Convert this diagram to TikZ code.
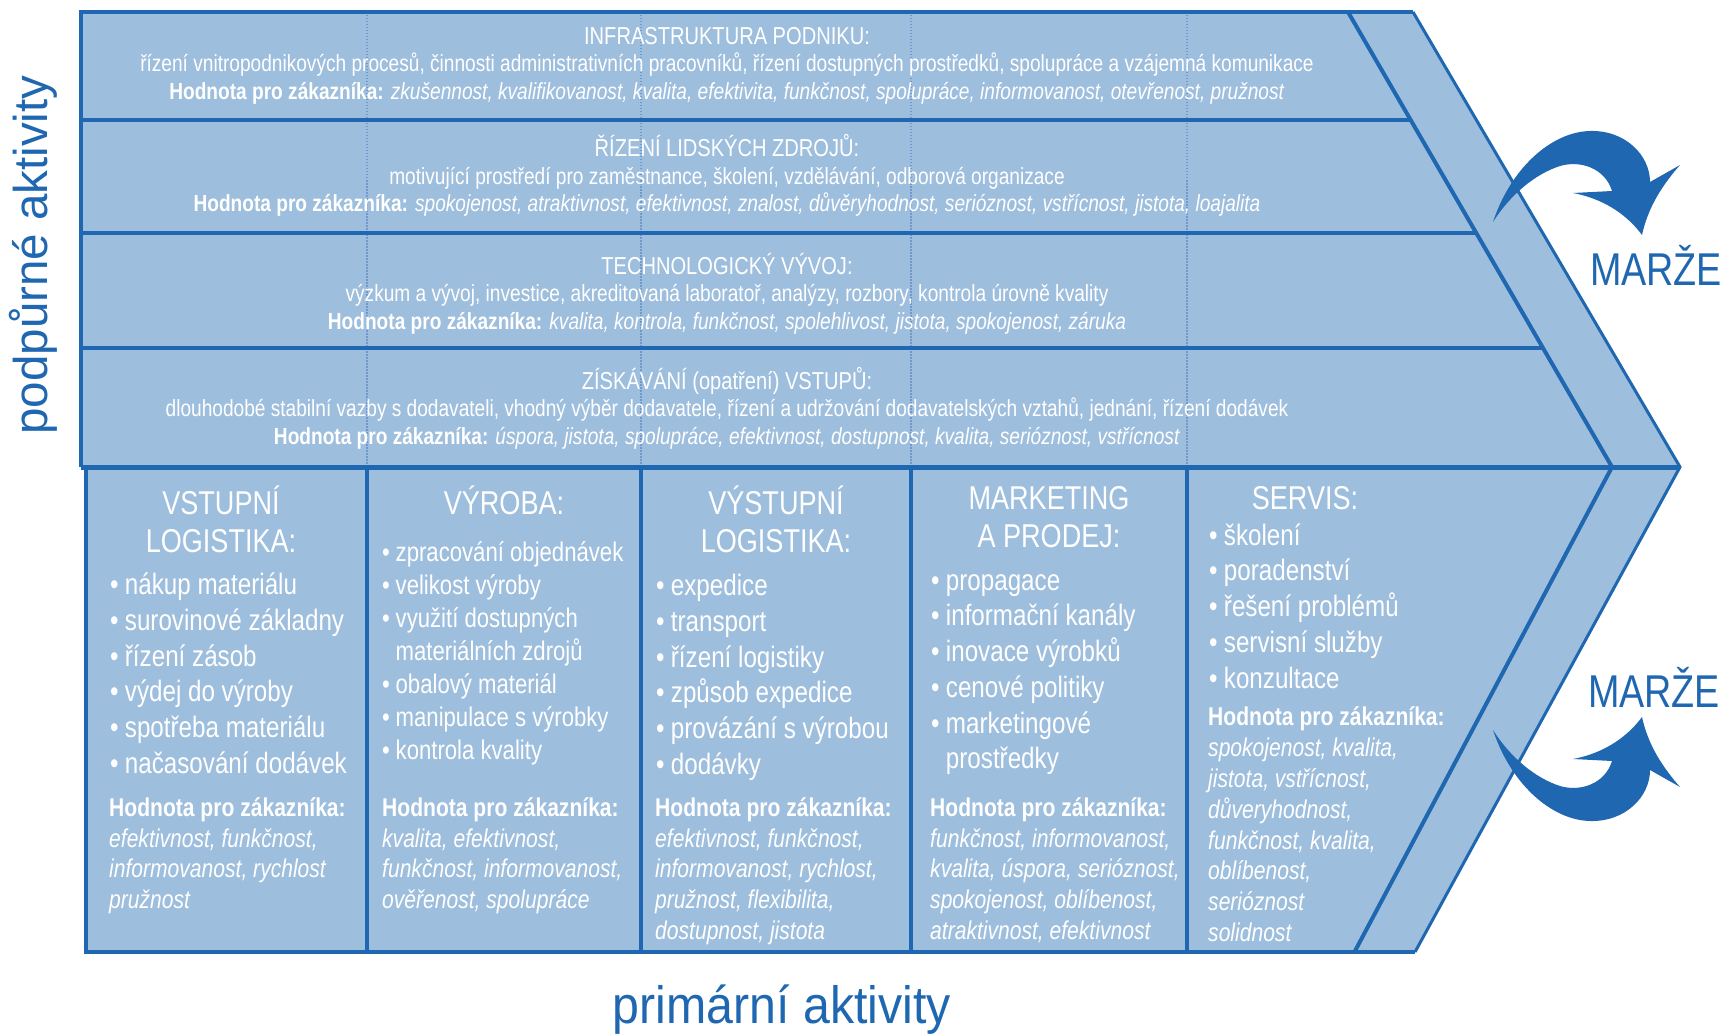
\documentclass[tikz,border=0pt]{standalone}
\usepackage{fontspec}
\setmainfont[FakeStretch=0.82]{Liberation Sans}
\newfontfamily\widefont{Liberation Sans}
\newfontfamily\botfont[FakeStretch=0.92]{Liberation Sans}
\definecolor{fillb}{RGB}{158,190,221}
\definecolor{lineb}{RGB}{31,103,176}
\definecolor{dotb}{RGB}{112,152,202}
\newcommand\bl{\makebox[0.5em][l]{•}}
\newcommand\cl{\hspace*{0.5em}}
\tikzset{
  bord/.style={draw=lineb, line width=4pt},
  thinbord/.style={draw=lineb, line width=3pt},
  dotl/.style={draw=dotb, line width=1.3pt, dash pattern=on 1.5pt off 1.5pt},
  sup/.style={text=white, inner sep=0pt, yshift=-6.6pt, font=\fontsize{23.3}{28}\selectfont},
  suph/.style={text=white, inner sep=0pt, yshift=-6.6pt, font=\fontsize{24.5}{28}\selectfont},
  head/.style={text=white, inner sep=0pt, yshift=-12pt, font=\fontsize{33}{38}\selectfont},
  bul/.style={text=white, inner sep=0pt, yshift=-8.6pt, font=\fontsize{29.5}{34}\selectfont},
  bulsm/.style={text=white, inner sep=0pt, yshift=-8.3pt, font=\fontsize{27}{32}\selectfont},
  val/.style={text=white, inner sep=0pt, yshift=-6.6pt, font=\fontsize{25.7}{30}\selectfont},
  marze/.style={text=lineb, inner sep=0pt, yshift=3pt, font=\fontsize{46}{50}\selectfont},
  arr/.style={fill=lineb},
}
\newcommand\suprow[5]{%
  \node[suph, anchor=mid] (#1h) at (727,#2) {#3};
  \node[sup, anchor=mid] (#1b) at (727,#2+27.5) {#4};
  \node[sup, anchor=mid] (#1v) at (727,#2+55) {\textbf{Hodnota pro zákazníka:} \textit{#5}};
}
\begin{document}
\begin{tikzpicture}[x=1pt,y=-1pt]
\useasboundingbox (0,0) rectangle (1726,1035);
\fill[white] (0,0) rectangle (1726,1035);
% key points
\coordinate (stl) at (81,12);
\coordinate (str) at (1413,12);
\coordinate (tip) at (1680,467);
\coordinate (pbr) at (1415,952);
\coordinate (pbl) at (86,952);
\coordinate (ptl) at (86,467);
\coordinate (sbl) at (81,467);
\coordinate (itop) at (1348,12);
\coordinate (imid) at (1612,467);
\coordinate (ibot) at (1355,951);
% fill
\fill[fillb] (stl) -- (str) -- (tip) -- (pbr) -- (pbl) -- (ptl) -- (sbl) -- cycle;
% dotted guide lines in support area
\foreach \x in {367,641,911,1187} \draw[dotl] (\x,15) -- (\x,464);
% support rows
\draw[bord] (81,120) -- (1411,120);
\draw[bord] (81,233) -- (1477,233);
\draw[bord] (81,348) -- (1544,348);
\draw[bord, line width=5pt] (sbl) -- (tip);
\draw[bord] (itop) -- (imid) -- (ibot);
\draw[bord] (sbl) -- (stl) -- (str);
\draw[thinbord] (str) -- (tip) -- (pbr);
\draw[bord] (ptl) -- (pbl) -- (pbr);
\foreach \x in {367,641,911,1187} \draw[bord] (\x,467) -- (\x,952);

% support texts
\suprow{ra}{35.2}{INFRASTRUKTURA PODNIKU:}{řízení vnitropodnikových procesů, činnosti administrativních pracovníků, řízení dostupných prostředků, spolupráce a vzájemná komunikace}{zkušennost, kvalifikovanost, kvalita, efektivita, funkčnost, spolupráce, informovanost, otevřenost, pružnost}
\suprow{rb}{147.5}{ŘÍZENÍ LIDSKÝCH ZDROJŮ:}{motivující prostředí pro zaměstnance, školení, vzdělávání, odborová organizace}{spokojenost, atraktivnost, efektivnost, znalost, důvěryhodnost, serióznost, vstřícnost, jistota, loajalita}
\suprow{rc}{265}{TECHNOLOGICKÝ VÝVOJ:}{výzkum a vývoj, investice, akreditovaná laboratoř, analýzy, rozbory, kontrola úrovně kvality}{kvalita, kontrola, funkčnost, spolehlivost, jistota, spokojenost, záruka}
\suprow{rd}{379.8}{ZÍSKÁVÁNÍ (opatření) VSTUPŮ:}{dlouhodobé stabilní vazby s dodavateli, vhodný výběr dodavatele, řízení a udržování dodavatelských vztahů, jednání, řízení dodávek}{úspora, jistota, spolupráce, efektivnost, dostupnost, kvalita, serióznost, vstřícnost}

% column 1
\node[head, anchor=mid] (c1h1) at (221,500) {VSTUPNÍ};
\node[head, anchor=mid] (c1h2) at (221,537.5) {LOGISTIKA:};
\foreach \t [count=\i] in {\bl nákup materiálu, \bl surovinové základny, \bl řízení zásob, \bl výdej do výroby, \bl spotřeba materiálu, \bl načasování dodávek}
  \node[bul, anchor=mid west] (c1b\i) at (110,{583.4+35.7*(\i-1)}) {\t};
\node[val, anchor=mid west] (c1v0) at (109,807) {\textbf{Hodnota pro zákazníka:}};
\foreach \t [count=\i] in {{efektivnost, funkčnost,}, {informovanost, rychlost}, {pružnost}}
  \node[val, anchor=mid west] (c1v\i) at (109,{807+30.8*\i}) {\textit{\t}};

% column 2
\node[head, anchor=mid] (c2h1) at (504,500) {VÝROBA:};
\foreach \t [count=\i] in {\bl zpracování objednávek, \bl velikost výroby, \bl využití dostupných, \cl materiálních zdrojů, \bl obalový materiál, \bl manipulace s výrobky, \bl kontrola kvality}
  \node[bulsm, anchor=mid west] (c2b\i) at (382,{550.4+33*(\i-1)}) {\t};
\node[val, anchor=mid west] (c2v0) at (382,807) {\textbf{Hodnota pro zákazníka:}};
\foreach \t [count=\i] in {{kvalita, efektivnost,}, {funkčnost, informovanost,}, {ověřenost, spolupráce}}
  \node[val, anchor=mid west] (c2v\i) at (382,{807+30.8*\i}) {\textit{\t}};

% column 3
\node[head, anchor=mid] (c3h1) at (776,500) {VÝSTUPNÍ};
\node[head, anchor=mid] (c3h2) at (776,537.5) {LOGISTIKA:};
\foreach \t [count=\i] in {\bl expedice, \bl transport, \bl řízení logistiky, \bl způsob expedice, \bl provázání s výrobou, \bl dodávky}
  \node[bul, anchor=mid west] (c3b\i) at (656,{584.5+35.7*(\i-1)}) {\t};
\node[val, anchor=mid west] (c3v0) at (655,807) {\textbf{Hodnota pro zákazníka:}};
\foreach \t [count=\i] in {{efektivnost, funkčnost,}, {informovanost, rychlost,}, {pružnost, flexibilita,}, {dostupnost, jistota}}
  \node[val, anchor=mid west] (c3v\i) at (655,{807+30.8*\i}) {\textit{\t}};

% column 4
\node[head, anchor=mid] (c4h1) at (1049,495) {MARKETING};
\node[head, anchor=mid] (c4h2) at (1049,532.5) {A PRODEJ:};
\foreach \t [count=\i] in {\bl propagace, \bl informační kanály, \bl inovace výrobků, \bl cenové politiky, \bl marketingové, \cl prostředky}
  \node[bul, anchor=mid west] (c4b\i) at (931,{579+35.7*(\i-1)}) {\t};
\node[val, anchor=mid west] (c4v0) at (930,807) {\textbf{Hodnota pro zákazníka:}};
\foreach \t [count=\i] in {{funkčnost, informovanost,}, {kvalita, úspora, serióznost,}, {spokojenost, oblíbenost,}, {atraktivnost, efektivnost}}
  \node[val, anchor=mid west] (c4v\i) at (930,{807+30.8*\i}) {\textit{\t}};

% column 5
\node[head, anchor=mid] (c5h1) at (1305,495) {SERVIS:};
\foreach \t [count=\i] in {\bl školení, \bl poradenství, \bl řešení problémů, \bl servisní služby, \bl konzultace}
  \node[bul, anchor=mid west] (c5b\i) at (1209,{533.9+35.8*(\i-1)}) {\t};
\node[val, anchor=mid west] (c5v0) at (1208,716.6) {\textbf{Hodnota pro zákazníka:}};
\foreach \t [count=\i] in {{spokojenost, kvalita,}, {jistota, vstřícnost,}, {důveryhodnost,}, {funkčnost, kvalita,}, {oblíbenost,}, {serióznost}, {solidnost}}
  \node[val, anchor=mid west] (c5v\i) at (1208,{716.6+30.8*\i}) {\textit{\t}};

% margin arrows
\fill[arr] (1493,222) .. controls (1510,170) and (1550,132) .. (1590,131)
  .. controls (1625,130) and (1650,155) .. (1650,182)
  -- (1680,165)
  .. controls (1658,190) and (1647,212) .. (1642,235)
  .. controls (1625,212) and (1600,198) .. (1573,193)
  -- (1612,191)
  .. controls (1605,168) and (1580,160) .. (1560,166)
  .. controls (1535,174) and (1510,195) .. (1493,222) -- cycle;
\fill[arr] (1493,730) .. controls (1510,782) and (1550,820) .. (1590,821)
  .. controls (1625,822) and (1650,797) .. (1650,770)
  -- (1680,787)
  .. controls (1658,762) and (1647,740) .. (1642,717)
  .. controls (1625,740) and (1600,754) .. (1573,759)
  -- (1612,761)
  .. controls (1605,784) and (1580,792) .. (1560,786)
  .. controls (1535,778) and (1510,757) .. (1493,730) -- cycle;
\node[marze, anchor=center] (m1) at (1656,268.5) {MARŽE};
\node[marze, anchor=center] (m2) at (1654,690) {MARŽE};

% axis labels
\node[text=lineb, inner sep=0pt, font=\widefont\fontsize{47.5}{50}\selectfont, rotate=90, anchor=mid] (lsup) at (45,255) {podpůrné aktivity};
\node[text=lineb, inner sep=0pt, yshift=-17.5pt, font=\botfont\fontsize{52.5}{56}\selectfont, anchor=mid] (lprim) at (782,1003) {primární aktivity};
\end{tikzpicture}
\end{document}
